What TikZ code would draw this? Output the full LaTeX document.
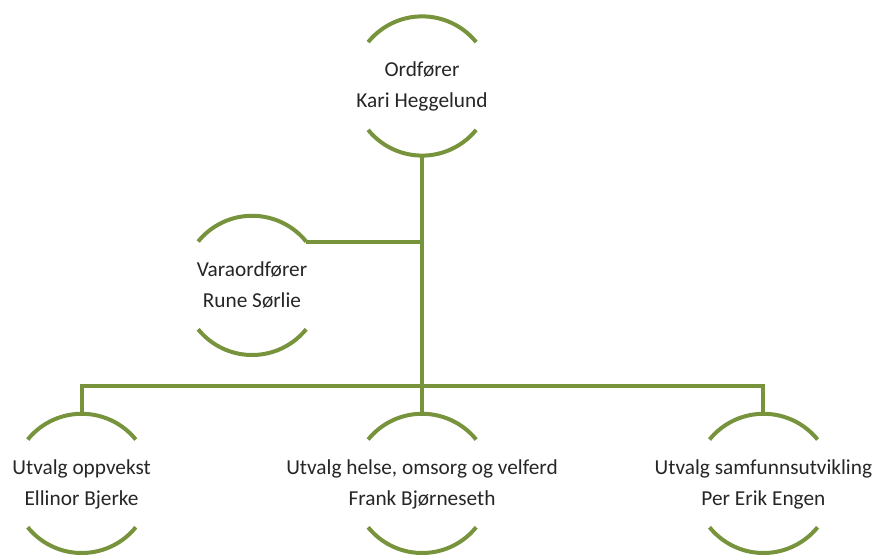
\documentclass[tikz,border=0pt]{standalone}
\usepackage{fontspec}
\setmainfont{Carlito}
\usepackage{xcolor}
\usetikzlibrary{positioning}

\definecolor{olive}{HTML}{77933C}
\definecolor{ink}{HTML}{262626}

\begin{document}
\begin{tikzpicture}[x=1pt,y=1pt,
                     unit/.style={circle,
                         minimum size=139pt,
                         inner sep=0pt,
                         text=ink,
                         font=\fontsize{21.3}{31}\selectfont},
                     ring/.style={olive, line width=4pt},
                     link/.style={olive, line width=4pt}]
    \useasboundingbox (0,0) rectangle (877,556);
    \node[unit] (ord) at (422,470) {\makebox[0pt]{\begin{tabular}{@{}c@{}}Ordfører\\Kari Heggelund\end{tabular}}};
    \node[unit, below=60pt of ord, xshift=-170pt](vara) {\makebox[0pt]{\begin{tabular}{@{}c@{}}Varaordfører\\Rune Sørlie\end{tabular}}};
    \node[unit, below=258pt of ord](hel) {\makebox[0pt]{\begin{tabular}{@{}c@{}}Utvalg helse, omsorg og velferd\\Frank Bjørneseth\end{tabular}}};
    \node[unit, left=201pt of hel](opp) {\makebox[0pt]{\begin{tabular}{@{}c@{}}Utvalg oppvekst\\Ellinor Bjerke\end{tabular}}};
    \node[unit, right=202pt of hel](sam) {\makebox[0pt]{\begin{tabular}{@{}c@{}}Utvalg samfunnsutvikling\\Per Erik Engen\end{tabular}}};
    \coordinate (bus) at (422,170);
    \foreach \n in {ord,vara,hel,opp,sam} {
        \draw[ring] (\n.39) arc[start angle=39, end angle=141, radius=69.5pt];
        \draw[ring] (\n.-39) arc[start angle=-39, end angle=-141, radius=69.5pt];
    }
    \draw[link] (ord.south) -- (hel.north);
    \draw[link] (vara.39) -- (vara.39 -| ord.south);
    \draw[link] (opp.north) |- (bus) -| (sam.north);
\end{tikzpicture}
\end{document}
